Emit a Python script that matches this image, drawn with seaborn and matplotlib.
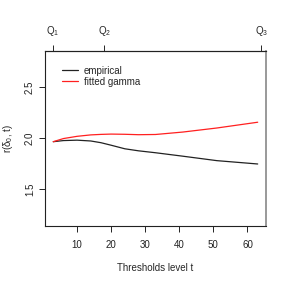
import matplotlib
matplotlib.use("Agg")
import matplotlib.pyplot as plt
import numpy as np
import pandas as pd
import seaborn as sns

# values
thresholds = [3, 6, 10, 14, 17, 20, 24, 28, 33, 41, 51, 63]
empirical = [1.965, 1.976, 1.980, 1.972, 1.955, 1.930, 1.895, 1.875, 1.856, 1.822, 1.778, 1.745]
fitted_gamma = [1.965, 1.996, 2.018, 2.032, 2.037, 2.040, 2.038, 2.034, 2.036, 2.060, 2.100, 2.157]
quantile_pos = [2.8, 18.0, 64.1]
quantile_labels = ["$Q_1$", "$Q_2$", "$Q_3$"]

sns.set_style("white")
plt.rcParams["font.family"] = ["Liberation Sans", "DejaVu Sans"]
plt.rcParams["mathtext.fontset"] = "custom"
plt.rcParams["mathtext.rm"] = "Liberation Sans"
plt.rcParams["mathtext.it"] = "Liberation Sans"

df = pd.DataFrame({
    "t": thresholds * 2,
    "r": empirical + fitted_gamma,
    "series": ["empirical"] * len(thresholds) + ["fitted gamma"] * len(thresholds),
})

fig = plt.figure(figsize=(2.89, 2.89), dpi=100)
ax = fig.add_axes([0.156, 0.219, 0.764, 0.606])
sns.lineplot(data=df, x="t", y="r", hue="series",
             palette={"empirical": "#222222", "fitted gamma": "#ff2020"},
             linewidth=0.9, ax=ax)

ax.set_xlim(0.6, 65.4)
ax.set_ylim(1.136, 2.864)
ax.set_xticks([10, 20, 30, 40, 50, 60])
ax.set_yticks([1.5, 2.0, 2.5])
ax.set_yticklabels(["1.5", "2.0", "2.5"], rotation=90, va="center")
ax.tick_params(direction="out", length=4.3, width=0.7, labelsize=7, pad=6,
               bottom=True, left=True, colors="#222222")
ax.tick_params(axis="y", pad=3)
for s in ax.spines.values():
    s.set_color("#222222")
    s.set_linewidth(0.8)
ax.spines["right"].set_color("#888888")
ax.spines["right"].set_linewidth(1.2)

ax.set_xlabel("Thresholds level t", fontsize=7, labelpad=9)
ax.set_ylabel(r"$r(\delta_0,\, t)$", fontsize=7)
ax.yaxis.set_label_coords(-0.135, 0.5)

top = ax.secondary_xaxis("top")
top.set_xticks(quantile_pos)
top.set_xticklabels(quantile_labels)
top.tick_params(direction="out", length=4.3, width=0.7, labelsize=7, pad=5)

ax.legend(frameon=False, fontsize=7, loc="upper left", handlelength=1.7,
          handletextpad=0.6, borderaxespad=0.9, labelspacing=0.1,
          bbox_to_anchor=(0.018, 0.985))

fig.savefig("out.png", dpi=100)
